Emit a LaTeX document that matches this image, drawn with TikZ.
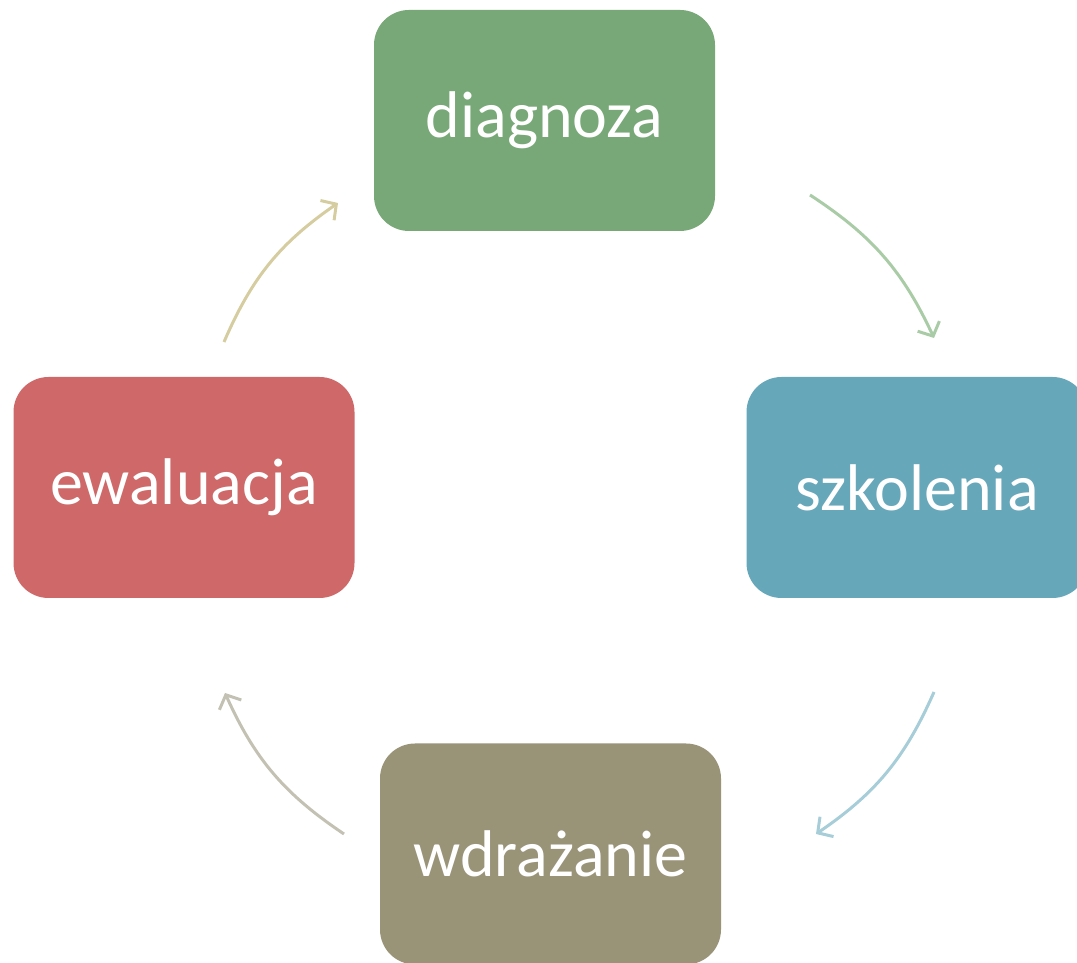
\documentclass[tikz,border=0pt]{standalone}
\usepackage{fontspec}
\setmainfont{Carlito}
\usetikzlibrary{arrows.meta}
\definecolor{cgreen}{HTML}{78A877}
\definecolor{cblue}{HTML}{67A7BA}
\definecolor{cred}{HTML}{CF6868}
\definecolor{colive}{HTML}{999378}
\definecolor{agreen}{HTML}{A9CCA7}
\definecolor{ablue}{HTML}{A6CDD8}
\definecolor{aolive}{HTML}{C3C1B3}
\definecolor{atan}{HTML}{D5CC9F}
\tikzset{
  box/.style={rounded corners=35pt, minimum width=341pt, minimum height=221pt, inner sep=0pt, text=white, font=\fontsize{66}{78}\selectfont},
  cyc/.style={line width=3pt, -{Straight Barb[length=11pt,width=24pt,line width=3pt]}}
}
\begin{document}
\begin{tikzpicture}[x=1pt,y=1pt]
\useasboundingbox (0,0) rectangle (1077,963);
\begin{scope}
\clip (0,0) rectangle (1077,963);
\node[box, fill=cgreen] (diag) at (544.5,842.5) {diagnoza};
\node[box, fill=cblue] (szk) at (917,475.5) {szkolenia};
\node[box, fill=cred] (ewa) at (184,475.5) {ewaluacja};
\node[box, fill=colive] (wdr) at (550.5,109) {wdrażanie};
\end{scope}
\coordinate (a1s) at (810,768);
\coordinate (a1e) at (934,625);
\coordinate (a2s) at (934,271);
\coordinate (a2e) at (816,129);
\coordinate (a3s) at (344,129);
\coordinate (a3e) at (225,270);
\coordinate (a4s) at (224,621);
\coordinate (a4e) at (338,760);
\draw[cyc, agreen] (a1s) to[bend left=16] (a1e);
\draw[cyc, ablue] (a2s) to[bend left=16] (a2e);
\draw[cyc, aolive] (a3s) to[bend left=16] (a3e);
\draw[cyc, atan] (a4s) to[bend left=16] (a4e);
\end{tikzpicture}
\end{document}
